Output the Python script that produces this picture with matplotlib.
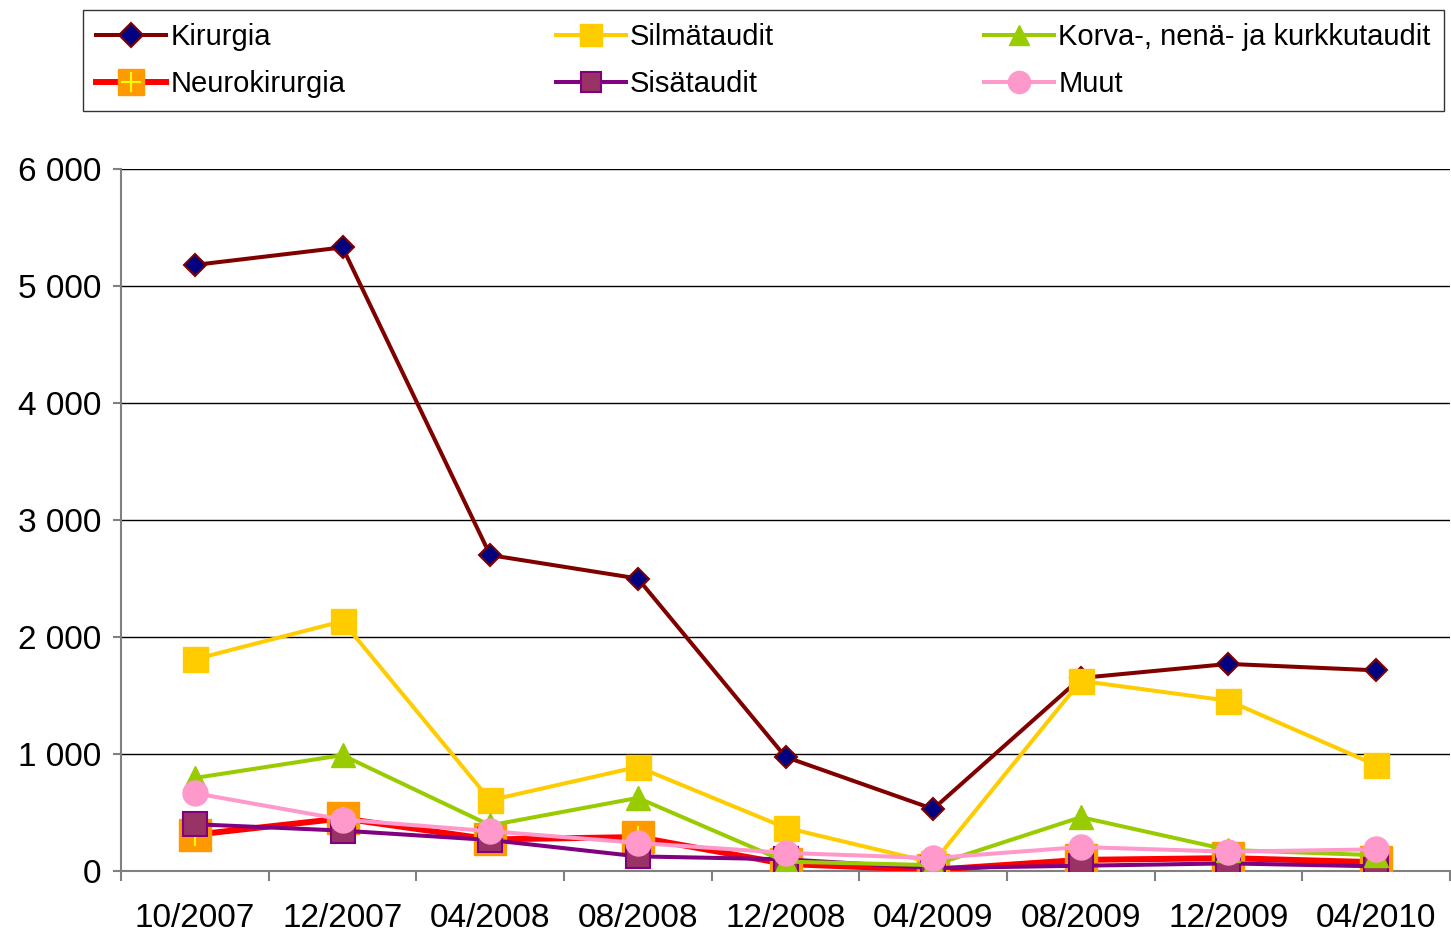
import matplotlib
matplotlib.use("Agg")
import matplotlib.pyplot as plt
from matplotlib.lines import Line2D

plt.rcParams['font.family'] = ['Liberation Sans', 'DejaVu Sans']

# category labels and values
periods = ['10/2007', '12/2007', '04/2008', '08/2008', '12/2008',
           '04/2009', '08/2009', '12/2009', '04/2010']
kirurgia = [5180, 5330, 2700, 2500, 975, 530, 1650, 1770, 1715]
neurokirurgia = [310, 450, 270, 290, 60, 10, 95, 110, 75]
silmataudit = [1810, 2135, 605, 890, 370, 70, 1625, 1455, 905]
sisataudit = [400, 345, 265, 125, 100, 25, 45, 65, 40]
korva = [795, 990, 390, 625, 80, 50, 460, 180, 135]
muut = [665, 440, 340, 240, 155, 110, 205, 165, 185]

y_ticks = [0, 1000, 2000, 3000, 4000, 5000, 6000]
y_labels = ['0', '1 000', '2 000', '3 000', '4 000', '5 000', '6 000']

fig = plt.figure(figsize=(14.51, 9.34), dpi=100)
ax = fig.add_axes([121 / 1451, 1 - 871 / 934, 1329 / 1451, 702 / 934])

x = list(range(len(periods)))
lw = 2.9

ax.plot(x, kirurgia, color='#800000', lw=lw, marker='D', ms=11,
        mfc='#000080', mec='#800000', mew=1.5, zorder=3, label='Kirurgia')
ax.plot(x, neurokirurgia, color='#FF0000', lw=4.3, marker='s', ms=23,
        mfc='#FF9900', mec='#FF9900', zorder=4)
ax.plot(x, neurokirurgia, ls='none', marker='+', ms=16, mec='#FFFF00',
        mew=1.5, zorder=4)
ax.plot(x, silmataudit, color='#FFCC00', lw=lw, marker='s', ms=18,
        mfc='#FFCC00', mec='#FFCC00', zorder=5, label='Silmätaudit')
ax.plot(x, sisataudit, color='#800080', lw=lw, marker='s', ms=17,
        mfc='#993366', mec='#800080', mew=1.5, zorder=6, label='Sisätaudit')
ax.plot(x, korva, color='#99CC00', lw=lw, marker='^', ms=17,
        mfc='#99CC00', mec='#99CC00', zorder=7,
        label='Korva-, nenä- ja kurkkutaudit')
ax.plot(x, muut, color='#FF99CC', lw=lw, marker='o', ms=18,
        mfc='#FF99CC', mec='#FF99CC', zorder=8, label='Muut')

ax.set_xlim(-0.5, len(periods) - 0.5)
ax.set_ylim(0, 6000)
ax.set_yticks(y_ticks)
ax.set_yticklabels(y_labels)
ax.set_xticks(x)
ax.set_xticklabels(periods)
ax.set_xticks([i - 0.5 for i in range(len(periods) + 1)], minor=True)
ax.tick_params(axis='x', which='major', length=0, pad=23, labelsize=24)
ax.tick_params(axis='x', which='minor', length=7, color='#808080', width=1.5)
ax.tick_params(axis='y', length=6, color='#808080', width=1.5, labelsize=24, pad=8)
ax.grid(axis='y', color='black', lw=1)
ax.set_axisbelow(True)
for side in ['top', 'right']:
    ax.spines[side].set_visible(False)
for side in ['left', 'bottom']:
    ax.spines[side].set_color('#808080')
    ax.spines[side].set_linewidth(1.5)

# legend handles, column order as in the chart
h_kir = Line2D([], [], color='#800000', lw=lw, marker='D', ms=12,
               mfc='#000080', mec='#800000', mew=1.5)
h_neu = (Line2D([], [], color='#FF0000', lw=4.3, marker='s', ms=19,
                mfc='#FF9900', mec='#FF9900'),
         Line2D([], [], ls='none', marker='+', ms=14, mec='#FFFF00', mew=1.5))
h_sil = Line2D([], [], color='#FFCC00', lw=lw, marker='s', ms=16,
               mfc='#FFCC00', mec='#FFCC00')
h_sis = Line2D([], [], color='#800080', lw=lw, marker='s', ms=15,
               mfc='#993366', mec='#800080', mew=1.5)
h_kor = Line2D([], [], color='#99CC00', lw=lw, marker='^', ms=15,
               mfc='#99CC00', mec='#99CC00')
h_muu = Line2D([], [], color='#FF99CC', lw=lw, marker='o', ms=16,
               mfc='#FF99CC', mec='#FF99CC')

handles = [h_kir, h_neu, h_sil, h_sis, h_kor, h_muu]
labels = ['Kirurgia', 'Neurokirurgia', 'Silmätaudit', 'Sisätaudit',
          'Korva-, nenä- ja kurkkutaudit', 'Muut']
leg = fig.legend(handles, labels, ncol=3, loc='upper left',
                 bbox_to_anchor=(83 / 1451, 1 - 10 / 934, 1361 / 1451, 0),
                 mode='expand', fontsize=21, frameon=True, fancybox=False,
                 edgecolor='black', handlelength=2.4, handletextpad=0.15,
                 borderaxespad=0, labelspacing=0.65, borderpad=0.45)
leg.get_frame().set_linewidth(1.0)

fig.savefig('out.png', dpi=100)
